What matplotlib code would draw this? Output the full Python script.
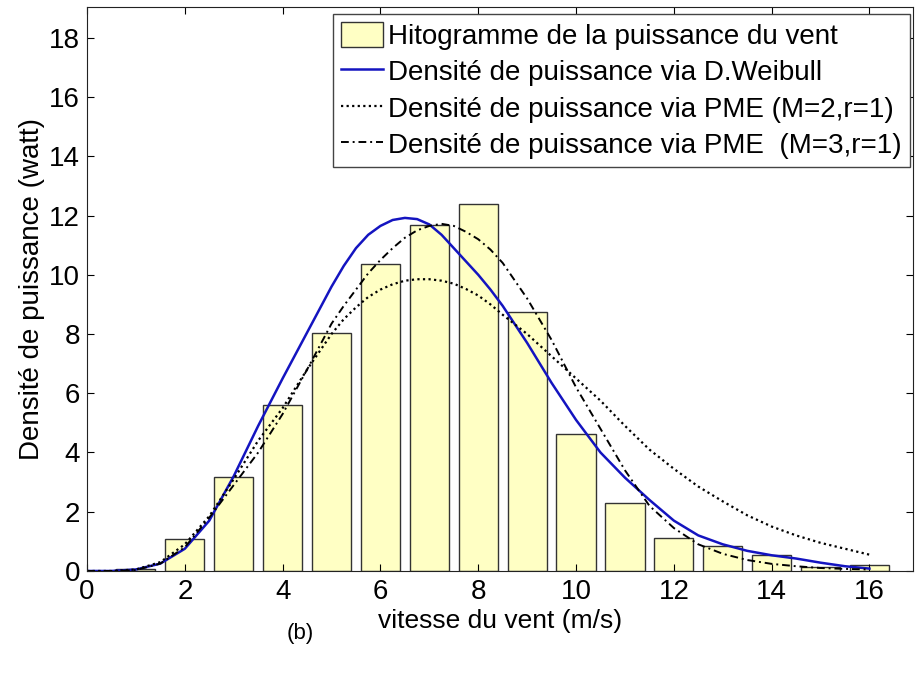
import matplotlib
matplotlib.use("Agg")
import matplotlib.pyplot as plt

plt.rcParams['font.family'] = ['Liberation Sans', 'DejaVu Sans']

# histogramme (centres des classes et hauteurs)
vitesse_bins = [1, 2, 3, 4, 5, 6, 7, 8, 9, 10, 11, 12, 13, 14, 15, 16]
puissance_hist = [0.05, 1.08, 3.16, 5.62, 8.05, 10.35, 11.68, 12.39,
                  8.75, 4.64, 2.29, 1.10, 0.83, 0.54, 0.15, 0.20]

# courbes de densité de puissance
v = [0, 0.5, 1, 1.5, 2, 2.5, 3, 3.5, 4, 4.5, 5, 5.25, 5.5, 5.75, 6, 6.25, 6.5,
     6.75, 7, 7.25, 7.5, 7.75, 8, 8.25, 8.5, 9, 9.5, 10, 10.5, 11, 11.5, 12,
     12.5, 13, 13.5, 14, 14.5, 15, 15.5, 16]
weibull = [0, 0.0, 0.05, 0.25, 0.75, 1.7, 3.2, 4.9, 6.5, 8.05, 9.6, 10.3, 10.9,
           11.35, 11.65, 11.85, 11.92, 11.88, 11.7, 11.35, 10.9, 10.45, 10.0,
           9.5, 8.95, 7.7, 6.35, 5.1, 4.0, 3.15, 2.4, 1.7, 1.2, 0.9, 0.68,
           0.53, 0.42, 0.28, 0.16, 0.08]
pme_m2 = [0, 0.0, 0.05, 0.3, 0.9, 1.85, 3.1, 4.4, 5.5, 6.8, 8.0, 8.5, 8.9,
          9.25, 9.5, 9.68, 9.8, 9.85, 9.85, 9.8, 9.7, 9.52, 9.3, 9.0, 8.65,
          8.0, 7.25, 6.5, 5.75, 4.9, 4.1, 3.45, 2.85, 2.35, 1.88, 1.5, 1.2,
          0.95, 0.75, 0.55]
pme_m3 = [0, 0.0, 0.03, 0.25, 0.8, 1.8, 2.9, 4.0, 5.3, 6.8, 8.35, 8.95, 9.5,
          10.05, 10.5, 10.9, 11.25, 11.5, 11.65, 11.72, 11.65, 11.45, 11.2,
          10.85, 10.4, 9.2, 7.8, 6.2, 4.8, 3.4, 2.2, 1.45, 0.9, 0.58, 0.37,
          0.24, 0.16, 0.10, 0.07, 0.05]

fig = plt.figure(figsize=(9.15, 6.73), dpi=100)
ax = fig.add_axes([0.0951, 0.1516, 0.9027, 0.8384])

barres = ax.bar(vitesse_bins, puissance_hist, width=0.8, color='#ffffc4',
                edgecolor='#333333', linewidth=1)
l1, = ax.plot(v, weibull, color='#1414c0', linewidth=1.8)
l2, = ax.plot(v, pme_m2, color='black', linewidth=1.6, linestyle=(0, (1, 1.5)))
l3, = ax.plot(v, pme_m3, color='black', linewidth=1.4, linestyle=(0, (4, 2, 1, 2)))

ax.set_xlim(0, 16.89)
ax.set_ylim(0, 19.05)
ax.set_xticks(range(0, 17, 2))
ax.set_yticks(range(0, 19, 2))
ax.tick_params(direction='in', top=True, right=True, length=5, labelsize=20)
ax.tick_params(axis='x', pad=6)
ax.tick_params(axis='y', pad=5)
for s in ax.spines.values():
    s.set_color('#222222')

ax.set_xlabel('vitesse du vent (m/s)', fontsize=19, labelpad=3)
ax.set_ylabel('Densité de puissance (watt)', fontsize=20, labelpad=3)
fig.text(0.328, 0.059, '(b)', fontsize=16, ha='center', va='center')

leg = ax.legend([barres, l1, l2, l3],
                ['Hitogramme de la puissance du vent',
                 'Densité de puissance via D.Weibull',
                 'Densité de puissance via PME (M=2,r=1)',
                 'Densité de puissance via PME  (M=3,r=1)'],
                loc='upper right', bbox_to_anchor=(0.9965, 0.9875), borderaxespad=0,
                fontsize=20, fancybox=False, framealpha=1, edgecolor='#444444',
                handlelength=1.5, handleheight=1.0, handletextpad=0.2,
                labelspacing=0.3, borderpad=0.3)
leg.get_frame().set_linewidth(1)

fig.savefig('out.png', dpi=100)
